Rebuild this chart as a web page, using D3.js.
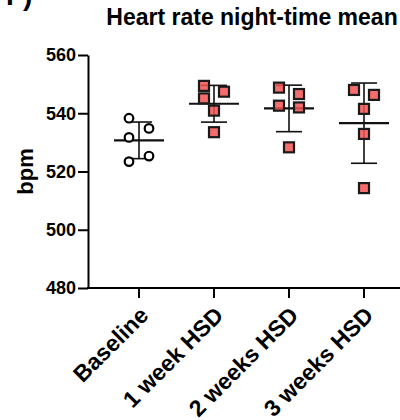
<!DOCTYPE html>
<html>
<head>
<meta charset="utf-8">
<script src="https://cdn.jsdelivr.net/npm/d3@7"></script>
<style>
  body { margin: 0; background: #fff; }
  text { font-family: "Liberation Sans", Arial, sans-serif; font-weight: bold; fill: #000; }
</style>
</head>
<body>
<div class="chart"></div>
<script>
// data (bpm)
var groups = ["Baseline", "1 week HSD", "2 weeks HSD", "3 weeks HSD"];
var baseline = [538.3, 534.8, 531.7, 525.3, 523.4];
var week1 = [549.4, 547.4, 545.1, 540.9, 533.5];
var week2 = [548.8, 546.6, 542.6, 542.0, 528.3];
var week3 = [548.0, 546.3, 541.5, 532.9, 514.3];
// column slot of each point in the scatter (-1 left, 0 centre, 1 right)
var baselineSlot = [-1, 1, -1, 1, -1];
var week1Slot = [-1, 1, -1, 0, 0];
var week2Slot = [-1, 1, -1, 1, 0];
var week3Slot = [-1, 1, 0, 0, 0];
var yTicks = [480, 500, 520, 540, 560];

var series = [baseline, week1, week2, week3];
var slots = [baselineSlot, week1Slot, week2Slot, week3Slot];

var svgx = 400;
var svgy = 420;
var margin = {top: 55, left: 88, bottom: 132};
var plotBottom = svgy - margin.bottom;

var svg = d3.select(".chart")
    .append("svg")
    .attr("width", svgx)
    .attr("height", svgy);

var xscale = d3.scaleBand()
    .domain(groups)
    .range([margin.left + 13.5, margin.left + 313.5]);

var yscale = d3.scaleLinear()
    .domain([480, 560])
    .range([plotBottom, margin.top]);

var slotWidth = 10;

// panel letter, cut by the top edge like in the figure
svg.append("text")
    .attr("x", 6)
    .attr("y", 5)
    .style("font-size", "28px")
    .text("F)");

// title
svg.append("text")
    .attr("x", 252)
    .attr("y", 25)
    .attr("text-anchor", "middle")
    .style("font-size", "23px")
    .text("Heart rate night-time mean");

// y axis
var yaxis = d3.axisLeft(yscale)
    .tickValues(yTicks)
    .tickSize(10)
    .tickPadding(2)
    .tickSizeOuter(0);

var gy = svg.append("g")
    .attr("transform", "translate(" + margin.left + ",0)")
    .call(yaxis);
gy.selectAll("path, line").attr("stroke", "#000").attr("stroke-width", 2);
gy.selectAll("text").style("font-size", "18px").attr("fill", "#000");

svg.append("text")
    .attr("transform", "translate(25," + yscale(520) + ") rotate(-90)")
    .attr("text-anchor", "middle")
    .attr("dy", "0.35em")
    .style("font-size", "22px")
    .text("bpm");

// x axis
var xaxis = d3.axisBottom(xscale)
    .tickSize(10)
    .tickSizeOuter(0)
    .tickFormat("");

var gx = svg.append("g")
    .attr("transform", "translate(0," + plotBottom + ")")
    .call(xaxis);
gx.select(".domain").remove();
gx.selectAll("line").attr("stroke", "#000").attr("stroke-width", 2);
gx.append("line")
    .attr("x1", margin.left - 1)
    .attr("x2", svgx)
    .attr("stroke", "#000")
    .attr("stroke-width", 2);

gx.selectAll(".tick")
    .append("text")
    .attr("transform", "translate(5,23) rotate(-45)")
    .attr("text-anchor", "end")
    .attr("dy", "0.35em")
    .style("font-size", "23px")
    .text(function(d) { return d; });

// mean and SD lines
var stats = series.map(function(vals, i) {
    return {
        group: groups[i],
        mean: d3.mean(vals),
        sd: d3.deviation(vals)
    };
});

var bars = svg.append("g").selectAll("g")
    .data(stats)
    .enter()
    .append("g")
    .attr("transform", function(d) {
        return "translate(" + (xscale(d.group) + xscale.bandwidth() / 2) + ",0)";
    });

bars.append("line")
    .attr("y1", function(d) { return yscale(d.mean + d.sd); })
    .attr("y2", function(d) { return yscale(d.mean - d.sd); })
    .attr("stroke", "#111")
    .attr("stroke-width", 1.6);

bars.selectAll(".cap")
    .data(function(d) { return [d.mean + d.sd, d.mean - d.sd]; })
    .enter()
    .append("line")
    .attr("class", "cap")
    .attr("x1", -13)
    .attr("x2", 13)
    .attr("y1", function(v) { return yscale(v); })
    .attr("y2", function(v) { return yscale(v); })
    .attr("stroke", "#111")
    .attr("stroke-width", 1.6);

bars.append("line")
    .attr("x1", -25)
    .attr("x2", 25)
    .attr("y1", function(d) { return yscale(d.mean); })
    .attr("y2", function(d) { return yscale(d.mean); })
    .attr("stroke", "#111")
    .attr("stroke-width", 2.2);

// points
var points = [];
series.forEach(function(vals, i) {
    vals.forEach(function(v, j) {
        points.push({group: groups[i], gi: i, value: v, slot: slots[i][j]});
    });
});

function px(d) {
    return xscale(d.group) + xscale.bandwidth() / 2 + d.slot * slotWidth;
}

svg.append("g")
    .selectAll("circle")
    .data(points.filter(function(d) { return d.gi === 0; }))
    .enter()
    .append("circle")
    .attr("cx", px)
    .attr("cy", function(d) { return yscale(d.value); })
    .attr("r", 4.3)
    .attr("fill", "#fff")
    .attr("stroke", "#000")
    .attr("stroke-width", 2.2);

svg.append("g")
    .selectAll("rect")
    .data(points.filter(function(d) { return d.gi > 0; }))
    .enter()
    .append("rect")
    .attr("x", function(d) { return px(d) - 5; })
    .attr("y", function(d) { return yscale(d.value) - 5; })
    .attr("width", 10)
    .attr("height", 10)
    .attr("fill", "#f25252")
    .attr("fill-opacity", 0.85)
    .attr("stroke", "#1a1a1a")
    .attr("stroke-width", 2.2);
</script>
</body>
</html>
